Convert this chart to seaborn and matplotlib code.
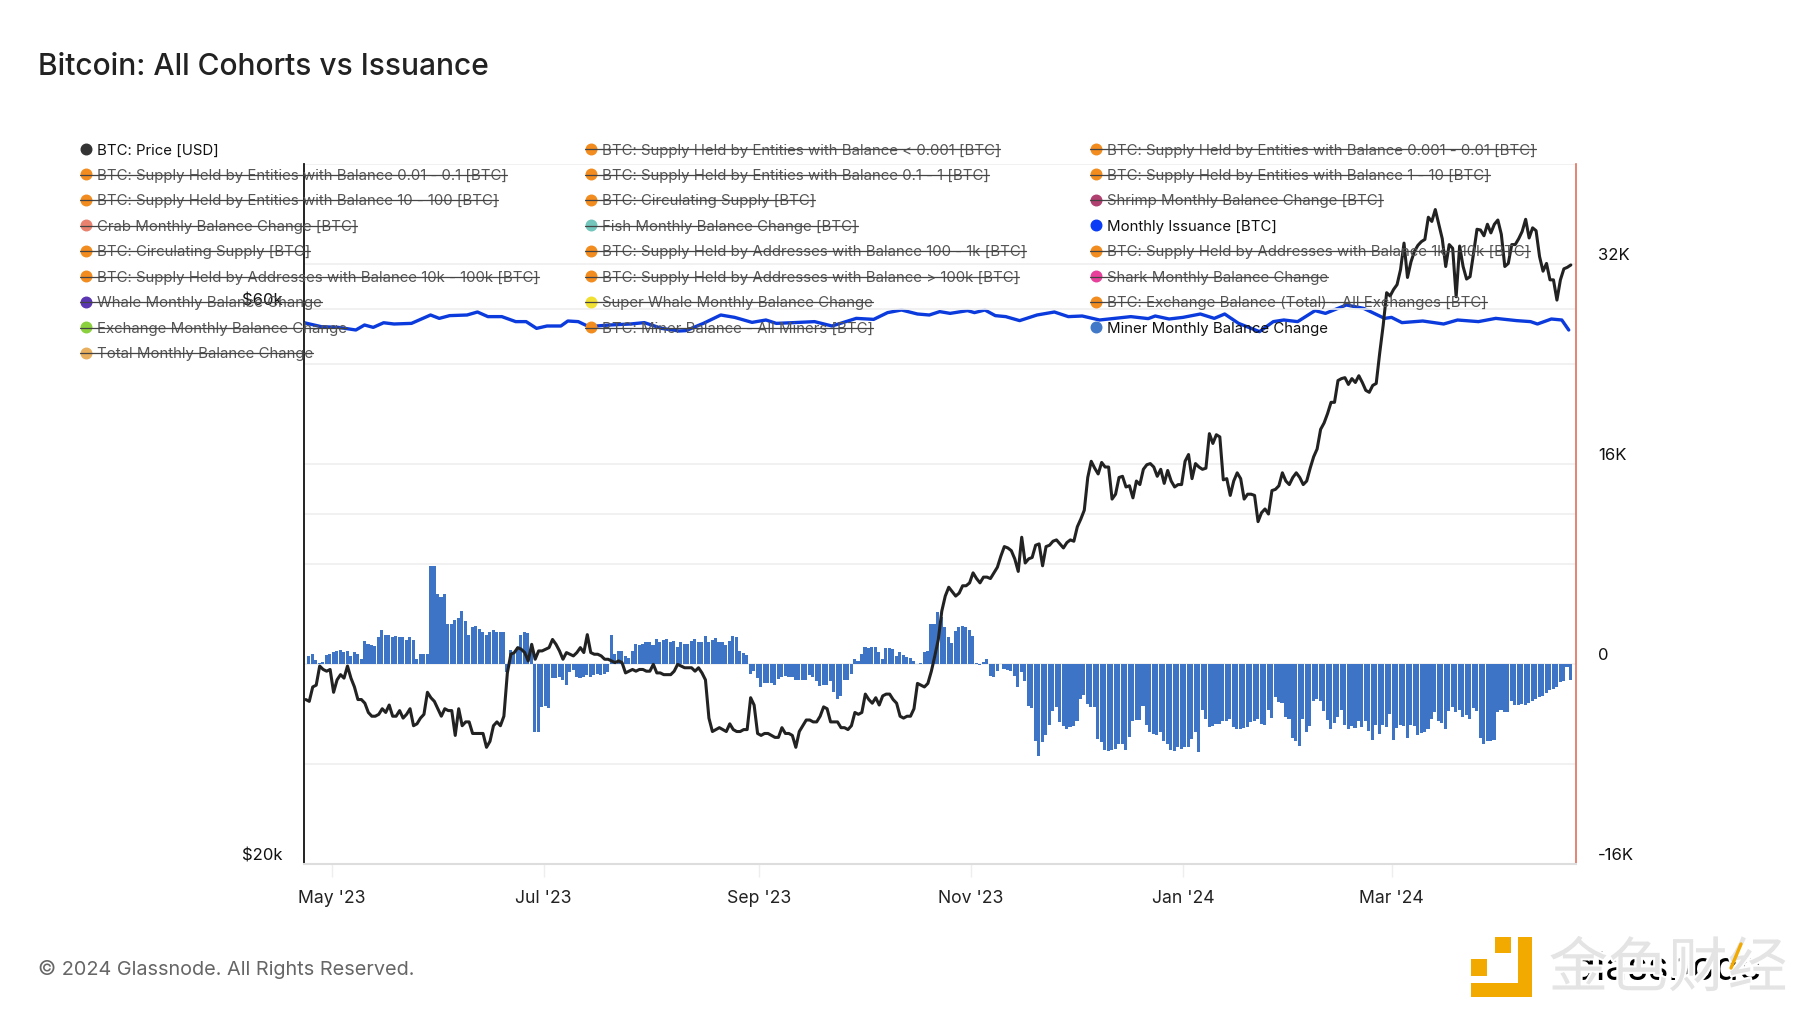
import numpy as np
import pandas as pd
import matplotlib
matplotlib.use("Agg")
import matplotlib.pyplot as plt
import matplotlib.dates as mdates
import matplotlib.patheffects as pe
from matplotlib.lines import Line2D
from matplotlib.patches import Rectangle
from matplotlib.ticker import NullLocator
from matplotlib.transforms import ScaledTranslation
import seaborn as sns

title = "Bitcoin: All Cohorts vs Issuance"
footer = "\u00a9 2024 Glassnode. All Rights Reserved."

price_k = [
 27.7,27.6,28.4,28.5,29.6,29.4,29.3,29.4,28.1,28.8,29.1,28.9,29.6,28.9,28.4,27.7,27.7,27.5,27.0,26.8,
 26.8,26.9,27.2,27.0,27.4,26.8,26.8,27.1,26.7,26.9,27.2,26.3,26.4,26.7,26.9,28.1,27.8,27.6,27.2,26.8,
 27.2,27.1,27.1,25.8,27.2,26.3,26.5,26.5,25.9,25.9,25.9,25.9,25.2,25.5,26.3,26.5,26.3,26.8,29.2,30.3,
 30.4,30.7,30.6,30.4,29.9,30.9,30.0,30.5,30.5,30.6,30.7,31.2,30.9,30.5,30.0,30.4,30.3,30.2,30.4,30.7,
 30.4,31.5,30.4,30.3,30.3,30.2,30.0,30.0,29.9,29.8,29.9,29.8,29.2,29.3,29.4,29.3,29.4,29.4,29.3,29.3,
 29.7,29.2,29.2,29.1,29.1,29.1,29.3,29.7,29.6,29.5,29.5,29.5,29.3,29.5,29.2,28.8,26.7,26.0,26.1,26.2,
 26.1,26.0,26.4,26.1,26.0,26.0,26.1,26.1,27.8,27.4,25.9,25.8,25.9,25.9,25.8,25.7,25.7,26.2,25.9,25.9,
 25.8,25.2,26.0,26.3,26.6,26.6,26.5,26.5,26.8,27.3,27.2,26.5,26.5,26.5,26.2,26.2,26.1,26.3,27.0,26.9,
 27.0,28.0,27.7,27.5,27.8,27.4,27.9,28.0,28.0,27.7,27.5,26.8,26.7,26.8,26.8,27.2,28.6,28.5,28.4,28.6,
 29.3,30.2,31.2,33.0,34.0,34.6,34.3,34.0,34.2,34.7,34.7,34.9,35.6,35.2,34.9,35.3,35.3,35.2,35.6,36.0,
 36.8,37.5,37.4,37.2,36.6,35.7,38.2,36.3,36.6,36.7,37.6,37.7,36.1,37.5,37.6,37.9,38.0,37.7,37.4,37.8,
 38.0,37.9,39.0,39.6,40.3,43.0,44.4,43.8,43.3,44.3,43.9,43.9,41.2,41.6,43.0,43.1,42.2,42.3,41.3,42.7,
 42.4,43.7,44.1,44.2,43.9,43.1,43.7,42.5,43.6,42.7,42.2,42.4,42.4,44.4,45.0,42.9,44.2,43.9,43.7,43.8,
 46.9,46.0,46.8,46.6,42.8,42.9,41.5,42.7,43.4,42.9,41.2,41.6,41.6,41.5,39.4,40.1,40.4,40.0,41.9,42.0,
 42.3,43.4,42.7,42.4,43.0,43.4,43.0,42.4,42.7,43.8,44.8,45.5,47.3,47.9,48.8,49.9,49.9,52.1,52.3,52.4,
 51.7,52.3,51.9,52.6,51.9,51.1,50.9,51.6,51.8,55.0,58.1,62.0,61.6,62.4,63.0,64.9,68.4,63.9,65.9,67.3,
 68.1,68.6,68.9,72.0,71.4,73.1,71.0,69.0,65.3,68.2,67.7,61.5,68.0,65.3,63.7,64.0,67.0,70.3,70.2,69.4,
 71.0,69.8,71.0,71.6,69.6,65.3,65.7,68.2,68.2,69.0,70.0,71.7,69.1,70.5,70.1,66.6,64.7,65.7,63.6,63.6,
 61.1,63.6,65.0,65.2,65.5]

miner_change = [
 670,800,320,80,130,690,800,930,1040,1150,930,1040,640,930,830,430,1870,1630,1520,1410,2130,2720,2350,2350,
 2130,2240,2130,2130,1890,2130,1890,430,830,830,830,7870,7870,5570,5360,5570,3200,3200,3550,3650,4270,3410,
 2350,2960,3070,2800,2560,2350,2590,2690,2590,2590,2590,-670,1150,880,1360,2350,2560,2450,1520,-5470,-5470,
 -3470,-3330,-3550,-1150,-1150,-1070,-1250,-1650,-670,-450,-1010,-1150,-1010,-850,-1010,-850,-800,-880,-800,
 -670,2350,800,1010,1010,670,480,1010,1600,1520,1600,1730,1730,1520,2000,1730,1920,2000,1730,1870,1330,1730,
 1600,1600,1870,2000,1730,1730,2270,1730,1920,2080,1730,1730,1520,1810,2270,2130,1010,850,750,-800,-530,-1120,
 -1870,-1520,-1520,-1520,-1650,-1200,-1070,-930,-1070,
 -1010,-1250,-1250,-1250,-1250,-880,-1010,-1390,-1730,-1650,-1650,-1330,-2270,-2800,-2590,-1250,-1250,-800,
 430,270,800,1330,1250,1390,1330,930,400,1310,1250,1200,670,930,750,590,480,270,0,50,930,1010,3200,3200,4130,
 3790,2930,2130,1650,2610,2930,3070,2990,2720,2270,80,-50,130,430,-930,-1010,-530,0,-400,-480,-530,-930,-1870,
 -670,-1390,-3330,-3520,-6130,-7330,-6270,-5650,-4850,-3790,-3410,-4670,-4930,-5200,-5010,-4930,-4530,-2800,
 -2480,-3200,-3470,-3470,-6000,-6270,-6880,-6990,-6880,-6800,-6400,-6400,-6880,-5810,-4530,-4480,-4480,-3330,
 -4850,-5470,-5600,-5680,-5470,-6130,-6400,-6880,-6990,-6670,-6800,-6670,-6670,-6000,-5470,-7070,-3680,-4400,
 -5070,-4930,-4800,-4800,-4530,-4590,-4400,-5070,-5200,-5200,-5120,-5070,-4670,-4590,-4400,-4800,-4850,-3680,
 -4320,-2670,-3070,
 -3150,-4270,-4400,-5920,-6130,-6530,-4400,-5470,-4990,-2930,-2800,-2990,-3790,-4480,-5200,-4750,-4270,-3650,
 -4850,-5200,-4930,-5120,-4590,-5070,-4590,-5330,-6080,-4850,-5600,-4880,-5070,-4000,-6080,-5120,-4880,-4930,
 -5920,-4880,-4930,-5680,-5550,-5410,-5200,-4400,-3870,-4530,-4750,-5200,-3790,-3410,-3870,-3680,-4210,-4050,
 -4400,-3520,-3790,-5920,-6400,-6190,-6190,-6080,-3870,-3680,-3870,-3870,-2930,-3250,-3250,-3200,-3250,-3150,
 -2990,-2800,-2670,-2530,-2350,-2080,-2000,-1870,-1470,-1330,-270,-1250]

issuance_day = [0,5,10,15,17.5,20,23,26,31,36.5,39,42,47,50,53,57,61,64,67,70,74,76,79,82,88,94,98,103,108,110,
 115,120,124,129,133,136,141,147,152,159,164,168,172,176.6,180,183,186,191,193,196,199,202,206,211,216,220,224,
 229,238,243,245,249,253,258,262,265,269,275,279,282,286,291,294,300,305,311,313,316,322,328,332,338,343,349,
 353,355,359,362,364]
issuance = [27310,26990,26930,26720,27120,26930,27300,27200,27250,27920,27650,27870,27920,28160,27790,27790,27390,
 27390,26850,27040,27040,27440,27390,26990,27120,27200,27310,26850,26640,26670,27250,27920,27730,27330,27520,
 27250,27310,27390,27040,27650,27570,28110,28320,28000,27920,28190,28050,28270,28110,28320,27870,27790,27470,
 27920,28160,27790,27840,27520,27790,27630,27840,27600,27730,28000,27650,28000,27250,26590,27390,27520,27390,
 28270,28050,28720,28450,27650,27730,27310,27440,27200,27520,27390,27650,27470,27390,27200,27600,27520,26720]

x_ticks = ["2023-05-01","2023-07-01","2023-09-01","2023-11-01","2024-01-01","2024-03-01"]
x_labels = ["May '23","Jul '23","Sep '23","Nov '23","Jan '24","Mar '24"]
right_ticks = [-16000,-8000,0,8000,16000,24000,32000,40000]
right_labels = ["-16K","","0","","16K","","32K",""]
left_ticks = [20000,40000,60000]
left_labels = ["$20k","","$60k"]

col1 = ["BTC: Price [USD]","BTC: Supply Held by Entities with Balance 0.01 - 0.1 [BTC]",
 "BTC: Supply Held by Entities with Balance 10 - 100 [BTC]","Crab Monthly Balance Change [BTC]",
 "BTC: Circulating Supply [BTC]","BTC: Supply Held by Addresses with Balance 10k - 100k [BTC]",
 "Whale Monthly Balance Change","Exchange Monthly Balance Change","Total Monthly Balance Change"]
col2 = ["BTC: Supply Held by Entities with Balance < 0.001 [BTC]","BTC: Supply Held by Entities with Balance 0.1 - 1 [BTC]",
 "BTC: Circulating Supply [BTC]","Fish Monthly Balance Change [BTC]","BTC: Supply Held by Addresses with Balance 100 - 1k [BTC]",
 "BTC: Supply Held by Addresses with Balance > 100k [BTC]","Super Whale Monthly Balance Change","BTC: Miner Balance - All Miners [BTC]"]
col3 = ["BTC: Supply Held by Entities with Balance 0.001 - 0.01 [BTC]","BTC: Supply Held by Entities with Balance 1 - 10 [BTC]",
 "Shrimp Monthly Balance Change [BTC]","Monthly Issuance [BTC]","BTC: Supply Held by Addresses with Balance 1k - 10k [BTC]",
 "Shark Monthly Balance Change","BTC: Exchange Balance (Total) - All Exchanges [BTC]","Miner Monthly Balance Change"]
OR = "#f28c1e"
col1_c = ["#333333",OR,OR,"#e8826f",OR,OR,"#5a36b2","#8bd13e","#e8b05e"]
col2_c = [OR,OR,OR,"#72c6bb",OR,OR,"#f0e030",OR]
col3_c = [OR,OR,"#b0406f","#0a3cf5",OR,"#e83f9a",OR,"#4178c8"]
active = {"BTC: Price [USD]","Monthly Issuance [BTC]","Miner Monthly Balance Change"}

sns.set_theme(style="white")
plt.rcParams["font.family"] = ["Inter","DejaVu Sans"]

W,H = 1800,1013
fig = plt.figure(figsize=(18,10.13),dpi=100,facecolor="white")
L,R,T,B = 303.7,1575.7,164,864
ax = fig.add_axes([L/W,1-B/H,(R-L)/W,(B-T)/H])

start = mdates.date2num(pd.Timestamp("2023-04-23"))
end = mdates.date2num(pd.Timestamp("2024-04-23"))
bar_x = start + 1.5 + np.arange(len(miner_change))
price_x = start + 0.6 + np.arange(len(price_k))
iss_x = start + np.array(issuance_day)

sns.barplot(x=bar_x,y=miner_change,native_scale=True,color="#3d74c6",saturation=1,
            width=0.88,errorbar=None,ax=ax,zorder=2,linewidth=0)
sns.lineplot(x=iss_x,y=issuance,color="#0b3bdc",lw=2.4,ax=ax,zorder=3,errorbar=None)
ax.set_ylim(-16000,40000)
ax.set_yticks(right_ticks,right_labels)
ax.grid(axis="y",color="#efefef",lw=1.2)
ax.grid(axis="x",visible=False)
ax.set_axisbelow(True)

tw = ax.twinx()
tw.set_yscale("log")
sns.lineplot(x=price_x,y=np.array(price_k)*1000,color="#222222",lw=2.2,ax=tw,zorder=4,errorbar=None)
tw.set_ylim(20000,80000)
tw.set_yticks(left_ticks,left_labels)
tw.yaxis.set_minor_locator(NullLocator())
tw.yaxis.tick_left()
ax.yaxis.tick_right()
ax.tick_params(axis="y",length=0,pad=16,labelsize=12,labelcolor="#111111")
tw.grid(axis="y",color="#efefef",lw=1.2)
tw.grid(axis="x",visible=False)
tw.set_axisbelow(True)
tw.tick_params(axis="y",length=0,pad=15.5,labelsize=12,labelcolor="#111111")
tw.patch.set_visible(False)

ax.set_xlim(start,end)
ax.set_xticks([mdates.date2num(pd.Timestamp(d)) for d in x_ticks],x_labels)
ax.tick_params(axis="x",length=9.5,width=1,color="#eeeeee",pad=9.5,labelsize=12.7,labelcolor="#222222",bottom=True)
ax.set_xlabel("");ax.set_ylabel("");tw.set_xlabel("");tw.set_ylabel("")

for a in (ax,tw):
    for s in a.spines.values():
        s.set_visible(False)
tw.spines["left"].set_visible(True);tw.spines["left"].set_color("#111111");tw.spines["left"].set_linewidth(1.3)
tw.spines["right"].set_visible(True);tw.spines["right"].set_color("#e0705c");tw.spines["right"].set_linewidth(1.2)
tw.spines["bottom"].set_visible(True);tw.spines["bottom"].set_color("#dddddd");tw.spines["bottom"].set_linewidth(1.5)

shift = ScaledTranslation(0,10/100,fig.dpi_scale_trans)
for lab in ax.get_yticklabels()+tw.get_yticklabels():
    lab.set_transform(lab.get_transform()+shift)

def fx(x): return x/W
def fy(y): return 1-y/H

fig.text(fx(38),fy(67),title,fontsize=21.55,color="#222222",va="center",ha="left",fontweight="medium")
fig.text(fx(38),fy(969),footer,fontsize=14.3,color="#666666",va="center",ha="left")

rows0,rowh = 150,25.45
texts=[]
for cx,labels,cols in ((86,col1,col1_c),(591,col2,col2_c),(1096,col3,col3_c)):
    for i,(lab,c) in enumerate(zip(labels,cols)):
        y = rows0+i*rowh
        on = lab in active
        t = fig.text(fx(cx+11),fy(y+0.5),lab,fontsize=10.77,color="#111111" if on else "#555555",va="center",ha="left",zorder=6)
        texts.append((t,cx,y,on))
        fig.add_artist(Line2D([fx(cx)],[fy(y-1)],marker="o",ms=7.6,color=c,mec=c,ls="none",zorder=7,transform=fig.transFigure))
fig.canvas.draw()
rend = fig.canvas.get_renderer()
for t,cx,y,on in texts:
    if not on:
        e = t.get_window_extent(rend)
        fig.add_artist(Line2D([fx(cx-6),fx(e.x1)],[fy(y-0.5),fy(y-0.5)],color="#444444",lw=0.9,zorder=8,transform=fig.transFigure))

# logo
ORG="#f2a900"
for (x0,y0,x1,y1) in ((1518,937,1532,997),(1471,983,1532,997),(1495,937,1511,953),(1471,959,1487,976)):
    fig.add_artist(Rectangle((fx(x0),fy(y1)),(x1-x0)/W,(y1-y0)/H,transform=fig.transFigure,fc=ORG,ec="none",zorder=5))
fig.text(fx(1667),fy(970),"glassnode",fontsize=28,color="#000000",ha="center",va="center",zorder=5)
wm = fig.text(fx(1668),fy(970),"\u91d1\u8272\u8d22\u7ecf",fontsize=43,color="#e4e4e4",ha="center",va="center",zorder=6,
              family=["Noto Sans CJK SC","DejaVu Sans"],fontweight="medium")
wm.set_path_effects([pe.withStroke(linewidth=3,foreground="white")])
fig.add_artist(Line2D([fx(1731),fx(1741)],[fy(968),fy(944)],color=ORG,lw=2.4,zorder=7,transform=fig.transFigure))

fig.savefig("out.png",dpi=100,facecolor="white")
